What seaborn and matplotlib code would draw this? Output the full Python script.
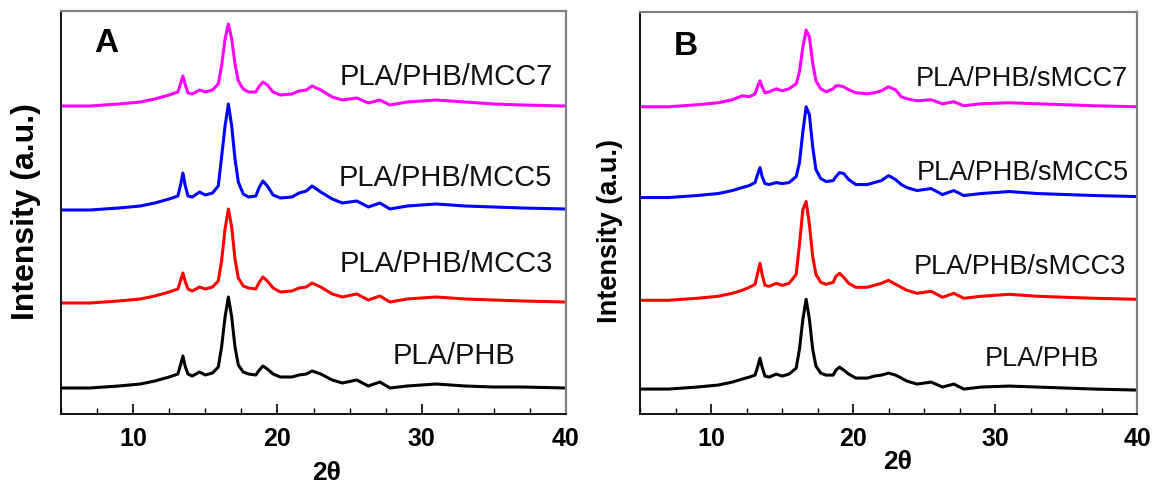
import numpy as np
import pandas as pd
import matplotlib
matplotlib.use("Agg")
import matplotlib.pyplot as plt
import seaborn as sns
from matplotlib.ticker import MultipleLocator

sns.set_style("ticks")
plt.rcParams['font.family'] = ['Liberation Sans', 'DejaVu Sans']
plt.rcParams['text.color'] = 'black'
plt.rcParams['xtick.color'] = 'black'
plt.rcParams['axes.labelcolor'] = 'black'

# ---------------- data (2θ grid and stacked intensities, a.u.) ----------------
x_A = [5, 7, 9, 10.5, 11.5, 12.5, 13.1, 13.3, 13.45, 13.6, 13.8, 14.1, 14.6, 15.0, 15.5,
       15.9, 16.13, 16.37, 16.6, 16.83, 17.06, 17.29, 17.63, 18.0, 18.5, 18.75, 19.0,
       19.3, 19.7, 20.2, 21.0, 21.5, 22.0, 22.4, 23.0, 23.8, 24.5, 25.5, 26.3, 27.1,
       27.8, 29, 31, 33, 35, 37, 40]

A_PLA_PHB = [26, 26, 28, 30, 33, 37, 40, 50, 58, 48, 40, 38, 42, 39, 41,
             47, 67, 97, 117, 97, 67, 49, 42, 40, 39, 44, 48,
             45, 40, 37, 37, 39, 40, 43, 40, 34, 31, 34, 28, 32,
             26, 28, 30, 28, 27, 27, 26]
A_MCC3 = [111, 111, 113, 115, 118, 122, 125, 134, 141, 133, 125, 123, 127, 125, 127,
          133, 153, 185, 205, 187, 155, 136, 128, 126, 125, 132, 137,
          133, 126, 122, 123, 126, 127, 131, 127, 120, 117, 120, 114, 118,
          112, 115, 117, 115, 114, 113, 112]
A_MCC5 = [204, 204, 206, 208, 211, 215, 218, 230, 241, 229, 218, 217, 222, 219, 221,
          228, 257, 288, 310, 288, 255, 232, 220, 217, 218, 227, 233,
          228, 219, 216, 217, 221, 223, 228, 222, 215, 211, 213, 207, 211,
          205, 208, 210, 208, 207, 206, 205]
A_MCC7 = [308, 308, 310, 312, 315, 319, 322, 331, 338, 330, 321, 320, 324, 322, 324,
          330, 348, 375, 390, 375, 350, 333, 325, 322, 322, 328, 332,
          329, 322, 319, 320, 323, 324, 328, 324, 317, 314, 316, 311, 314,
          309, 312, 314, 312, 310, 309, 308]

x_B = [5, 7, 9, 10.5, 11.5, 12.2, 12.7, 13.1, 13.3, 13.45, 13.6, 13.8, 14.1, 14.6, 15.0,
       15.5, 16.0, 16.23, 16.47, 16.7, 16.93, 17.16, 17.39, 17.73, 18.1, 18.6, 18.8,
       19.05, 19.35, 19.7, 20.2, 21.0, 21.5, 22.0, 22.5, 23.0, 23.4, 23.8, 24.5, 25.5,
       26.3, 27.1, 27.8, 29, 31, 33, 35, 37, 40]

B_PLA_PHB = [25, 25, 27, 29, 32, 35, 37, 39, 48, 56, 47, 38, 37, 40, 38,
             40, 46, 65, 95, 115, 95, 65, 48, 41, 39, 39, 44,
             47, 44, 40, 36, 36, 38, 39, 41, 39, 36, 33, 30, 32,
             27, 30, 25, 27, 28, 27, 26, 25, 24]
B_sMCC3 = [114, 114, 116, 118, 121, 124, 127, 130, 142, 151, 140, 129, 128, 131, 129,
           131, 140, 170, 205, 213, 190, 158, 140, 132, 130, 132, 138,
           141, 137, 131, 127, 127, 129, 131, 134, 130, 127, 124, 121, 123,
           117, 121, 116, 118, 120, 118, 117, 116, 115]
B_sMCC5 = [217, 217, 219, 221, 224, 227, 229, 232, 241, 247, 238, 231, 230, 232, 231,
           232, 238, 252, 283, 308, 300, 268, 245, 236, 233, 234, 238,
           242, 241, 235, 230, 230, 232, 234, 239, 235, 230, 227, 224, 226,
           220, 224, 219, 221, 223, 221, 220, 219, 218]
B_sMCC7 = [308, 308, 310, 312, 315, 319, 318, 321, 329, 334, 328, 322, 323, 326, 324,
           326, 331, 343, 368, 385, 378, 352, 334, 326, 323, 326, 329,
           329, 328, 325, 322, 321, 322, 324, 328, 325, 318, 316, 314, 315,
           311, 313, 309, 311, 312, 311, 310, 309, 308]

labels_A = ["PLA/PHB", "PLA/PHB/MCC3", "PLA/PHB/MCC5", "PLA/PHB/MCC7"]
labels_B = ["PLA/PHB", "PLA/PHB/sMCC3", "PLA/PHB/sMCC5", "PLA/PHB/sMCC7"]
colors = ["#000000", "#FF0000", "#0000FF", "#FF00FF"]


def long_df(x, series, names):
    rows = []
    for name, ys in zip(names, series):
        for xv, yv in zip(x, ys):
            rows.append((name, xv, yv))
    return pd.DataFrame(rows, columns=["sample", "two_theta", "intensity"])


df_A = long_df(x_A, [A_PLA_PHB, A_MCC3, A_MCC5, A_MCC7], labels_A)
df_B = long_df(x_B, [B_PLA_PHB, B_sMCC3, B_sMCC5, B_sMCC7], labels_B)

W, H = 1160, 483
fig = plt.figure(figsize=(W / 100, H / 100), dpi=100)


def px_axes(l, r, t, b):
    return fig.add_axes([l / W, 1 - b / H, (r - l) / W, (b - t) / H])


axA = px_axes(61, 566, 11, 414)
axB = px_axes(640, 1137, 12, 414)

sns.lineplot(data=df_A, x="two_theta", y="intensity", hue="sample", palette=colors,
             hue_order=labels_A, estimator=None, sort=False, legend=False, lw=2.2, ax=axA)
sns.lineplot(data=df_B, x="two_theta", y="intensity", hue="sample", palette=colors,
             hue_order=labels_B, estimator=None, sort=False, legend=False, lw=2.2, ax=axB)


def style_axis(ax):
    ax.set_xlim(5, 40)
    ax.set_ylim(0, 403)
    ax.set_yticks([])
    ax.xaxis.set_major_locator(MultipleLocator(10))
    ax.xaxis.set_minor_locator(MultipleLocator(2.5))
    ax.tick_params(axis='x', which='major', direction='in', length=7, width=1.2,
                   pad=9, labelsize=18, bottom=True, top=False, colors='black')
    ax.tick_params(axis='x', which='minor', direction='in', length=4, width=1.0,
                   bottom=True, top=False, colors='black')
    ax.tick_params(axis='y', left=False, right=False)
    for lab in ax.get_xticklabels():
        lab.set_fontweight('bold')
    for s in ['left', 'bottom']:
        ax.spines[s].set_visible(True)
        ax.spines[s].set_color('black')
        ax.spines[s].set_linewidth(1.3)
    for s in ['top', 'right']:
        ax.spines[s].set_visible(True)
        ax.spines[s].set_color('#808080')
        ax.spines[s].set_linewidth(1.6)
    ax.set_xlabel("")
    ax.set_ylabel("")


style_axis(axA)
style_axis(axB)

# curve labels
for (xr, yc, t) in [(39.1, 337, labels_A[3]), (39.0, 236, labels_A[2]),
                    (39.1, 150, labels_A[1]), (36.5, 58, labels_A[0])]:
    axA.text(xr, yc, t, ha='right', va='center', fontsize=21, color='#111111')
for (xr, yc, t) in [(39.4, 336, labels_B[3]), (39.4, 242, labels_B[2]),
                    (39.2, 147, labels_B[1]), (37.3, 55, labels_B[0])]:
    axB.text(xr, yc, t, ha='right', va='center', fontsize=19.5, color='#111111')

axA.text(7.3, 370, "A", ha='left', va='center', fontsize=24, fontweight='bold')
axB.text(7.4, 368, "B", ha='left', va='center', fontsize=24, fontweight='bold')

fig.text(26 / W, 1 - 212 / H, "Intensity (a.u.)", rotation=90, ha='center', va='center',
         fontsize=23, fontweight='bold')
fig.text(610 / W, 1 - 231 / H, "Intensity (a.u.)", rotation=90, ha='center', va='center',
         fontsize=19.5, fontweight='bold')
fig.text(327 / W, 1 - 473 / H, "2θ", ha='center', va='center', fontsize=19, fontweight='bold')
fig.text(898 / W, 1 - 462 / H, "2θ", ha='center', va='center', fontsize=19, fontweight='bold')

fig.savefig("out.png", dpi=100)
